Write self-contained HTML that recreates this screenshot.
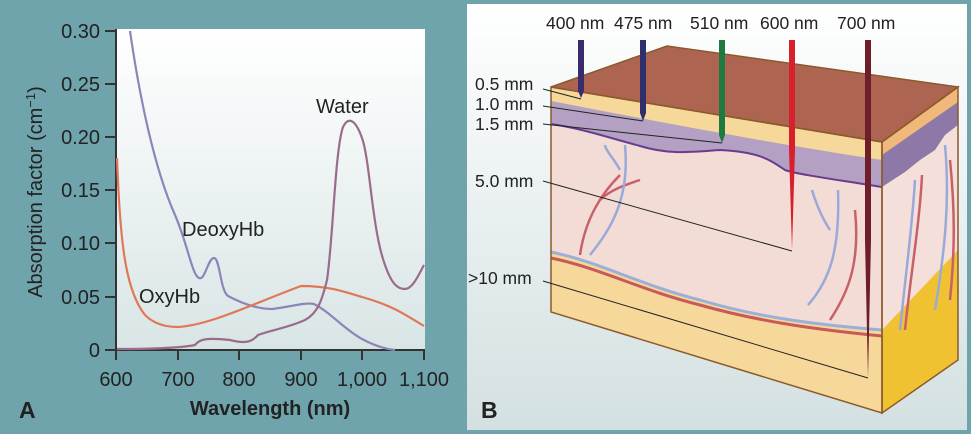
<!DOCTYPE html>
<html><head><meta charset="utf-8"><style>
html,body{margin:0;padding:0;background:#fff}
svg{display:block}
text{font-family:"Liberation Sans",sans-serif}
</style></head><body>
<svg width="971" height="434" viewBox="0 0 971 434" xmlns="http://www.w3.org/2000/svg">
<defs>
<linearGradient id="pa" x1="0" y1="0" x2="0" y2="1"><stop offset="0" stop-color="#ffffff"/><stop offset="1" stop-color="#d9e5e5"/></linearGradient>
<linearGradient id="pb" x1="0" y1="0" x2="0" y2="1"><stop offset="0" stop-color="#ffffff"/><stop offset="1" stop-color="#d3e0e1"/></linearGradient>
</defs>
<!-- Panel A -->
<rect x="0" y="0" width="463" height="434" fill="#6fa4ac"/>
<rect x="116" y="29" width="309" height="321" fill="url(#pa)"/>
<g stroke="#333" stroke-width="2" fill="none">
<line x1="116" y1="29" x2="116" y2="351"/>
<line x1="115" y1="350" x2="425" y2="350"/>
<line x1="105" y1="31" x2="116" y2="31"/><line x1="105" y1="84" x2="116" y2="84"/><line x1="105" y1="137" x2="116" y2="137"/><line x1="105" y1="190" x2="116" y2="190"/><line x1="105" y1="243" x2="116" y2="243"/><line x1="105" y1="297" x2="116" y2="297"/><line x1="105" y1="350" x2="116" y2="350"/>
<line x1="116" y1="350" x2="116" y2="360"/><line x1="178" y1="350" x2="178" y2="360"/><line x1="239" y1="350" x2="239" y2="360"/><line x1="301" y1="350" x2="301" y2="360"/><line x1="362" y1="350" x2="362" y2="360"/><line x1="424" y1="350" x2="424" y2="360"/>
</g>
<g font-size="20" fill="#222" text-anchor="end">
<text x="100" y="38">0.30</text><text x="100" y="91">0.25</text><text x="100" y="144">0.20</text><text x="100" y="197">0.15</text><text x="100" y="250">0.10</text><text x="100" y="304">0.05</text><text x="100" y="357">0</text>
</g>
<g font-size="20" fill="#222" text-anchor="middle">
<text x="116" y="386">600</text><text x="178" y="386">700</text><text x="239" y="386">800</text><text x="301" y="386">900</text><text x="362" y="386">1,000</text><text x="424" y="386">1,100</text>
</g>
<text x="270" y="415" font-size="20" font-weight="bold" fill="#222" text-anchor="middle">Wavelength (nm)</text>
<text x="19" y="418" font-size="23" font-weight="bold" fill="#222">A</text>
<text transform="translate(42,192) rotate(-90)" font-size="20" fill="#222" text-anchor="middle">Absorption factor (cm<tspan dy="-7" font-size="13">−1</tspan><tspan dy="7">)</tspan></text>
<path d="M130,31 C140,100 155,170 175,215 C188,245 192,275 199,278 C205,281 208,258 214,258 C220,258 220,290 228,296 C245,305 260,309 272,309 C290,307 305,302 314,304 C330,312 345,330 362,339 C375,346 385,349 395,350" fill="none" stroke="#8c86b8" stroke-width="2.2"/>
<path d="M117,158 C120,240 125,290 145,315 C155,325 168,327 178,327 C210,325 250,305 301,286 C330,286 345,292 362,297 C395,306 410,318 424,326" fill="none" stroke="#e07858" stroke-width="2.2"/>
<path d="M117,349 C150,349 180,348 195,345 C200,338 210,338 230,340 C245,344 252,342 258,335 C272,330 290,327 305,320 C318,313 322,300 327,280 C333,240 335,150 343,127 C348,117 355,118 362,138 C370,160 372,230 385,265 C392,285 398,289 405,289 C413,289 420,272 424,265" fill="none" stroke="#9a6c8c" stroke-width="2.2"/>
<text x="316" y="113" font-size="20" fill="#222">Water</text>
<text x="182" y="236" font-size="20" fill="#222">DeoxyHb</text>
<text x="139" y="303" font-size="20" fill="#222">OxyHb</text>
<!-- Panel B -->
<rect x="463" y="0" width="508" height="434" fill="#6fa4ac"/>
<rect x="467" y="4" width="500" height="426" fill="url(#pb)"/>
<!-- right face -->
<polygon points="882,142 958,87 958,360 882,413" fill="#f5dfda"/>
<polygon points="882,330 958,250 958,360 882,413" fill="#f0c232"/>
<polygon points="882,150 958,100 958,125 945,135 935,150 920,160 905,172 882,187" fill="#8e78a8"/>
<polygon points="882,140 958,87 958,102 882,155" fill="#f0b87a"/>
<!-- front face -->
<polygon points="551,87 882,142 882,413 551,312" fill="#f6d99a"/>
<path d="M551,124 C580,128 610,138 640,146 C670,155 690,152 720,150 C760,152 770,160 785,170 C800,175 840,180 882,187 L882,330 C820,325 760,318 700,300 C640,285 590,262 551,252 Z" fill="#f3dcd6"/>
<path d="M551,124 C580,128 610,138 640,146 C670,155 690,152 720,150 C760,152 770,160 785,170 C800,175 840,180 882,187 L882,160 C780,145 660,122 551,101 Z" fill="#b3a0c3"/>
<path d="M551,124 C580,128 610,138 640,146 C670,155 690,152 720,150 C760,152 770,160 785,170 C800,175 840,180 882,187" fill="none" stroke="#6a3c90" stroke-width="2"/>
<path d="M551,252 C600,262 640,285 700,300 C760,318 820,325 882,330" fill="none" stroke="#9ab0d8" stroke-width="3"/>
<path d="M551,258 C600,268 640,290 700,305 C760,322 820,330 882,336" fill="none" stroke="#c85a5a" stroke-width="3"/>
<g fill="none" stroke-width="2.5">
<path d="M580,255 C585,220 600,195 620,175 M600,200 C610,190 625,185 640,180" stroke="#c8606a"/>
<path d="M590,255 C610,230 630,200 625,145 M620,170 C615,160 605,150 605,145" stroke="#9aaad8"/>
<path d="M808,305 C830,280 840,250 838,190 M830,230 C820,215 815,200 812,190" stroke="#9aaad8"/>
<path d="M830,320 C850,290 860,260 855,210" stroke="#c8606a"/>
<path d="M900,330 C905,280 912,230 915,180 M935,310 C945,250 950,200 945,145" stroke="#9aaad8"/>
<path d="M905,330 C910,280 920,220 922,175 M950,300 C955,250 955,210 950,160" stroke="#c8606a"/>
</g>
<polygon points="551,87 667,46 958,87 882,142" fill="#ad6551" stroke="#8a5a2a" stroke-width="1.5"/>
<polygon points="551,87 882,142 882,413 551,312" fill="none" stroke="#8a5a2a" stroke-width="1.5"/>
<polygon points="882,142 958,87 958,360 882,413" fill="none" stroke="#8a5a2a" stroke-width="1.5"/>
<!-- needles -->
<g>
<path d="M578,40 h6 v51 l-3,7 l-3,-7 z" fill="#3a2a6e"/>
<path d="M640,40 h6 v73 l-3,8 l-3,-8 z" fill="#2e2f6b"/>
<path d="M719,40 h6 v95 l-3,8 l-3,-8 z" fill="#1e7a40"/>
<path d="M789,40 h6 v110 l-3,100 l-3,-100 z" fill="#d8202c"/>
<path d="M865,40 h6 v200 l-3,138 l-3,-138 z" fill="#6e1e2a"/>
</g>
<g stroke="#222" stroke-width="1" fill="none">
<line x1="543" y1="89" x2="581" y2="99"/>
<line x1="543" y1="106" x2="643" y2="121"/>
<line x1="543" y1="124" x2="722" y2="143"/>
<line x1="543" y1="181" x2="792" y2="251"/>
<line x1="543" y1="281" x2="868" y2="378"/>
</g>
<g font-size="17.5" fill="#222">
<text x="475" y="90">0.5 mm</text><text x="475" y="110">1.0 mm</text><text x="475" y="130">1.5 mm</text><text x="475" y="187">5.0 mm</text><text x="468" y="284">&gt;10 mm</text>
</g>
<g font-size="17.5" fill="#222">
<text x="546" y="29">400 nm</text><text x="614" y="29">475 nm</text><text x="690" y="29">510 nm</text><text x="760" y="29">600 nm</text><text x="837" y="29">700 nm</text>
</g>
<text x="481" y="418" font-size="23" font-weight="bold" fill="#222">B</text>
</svg>
</body></html>
